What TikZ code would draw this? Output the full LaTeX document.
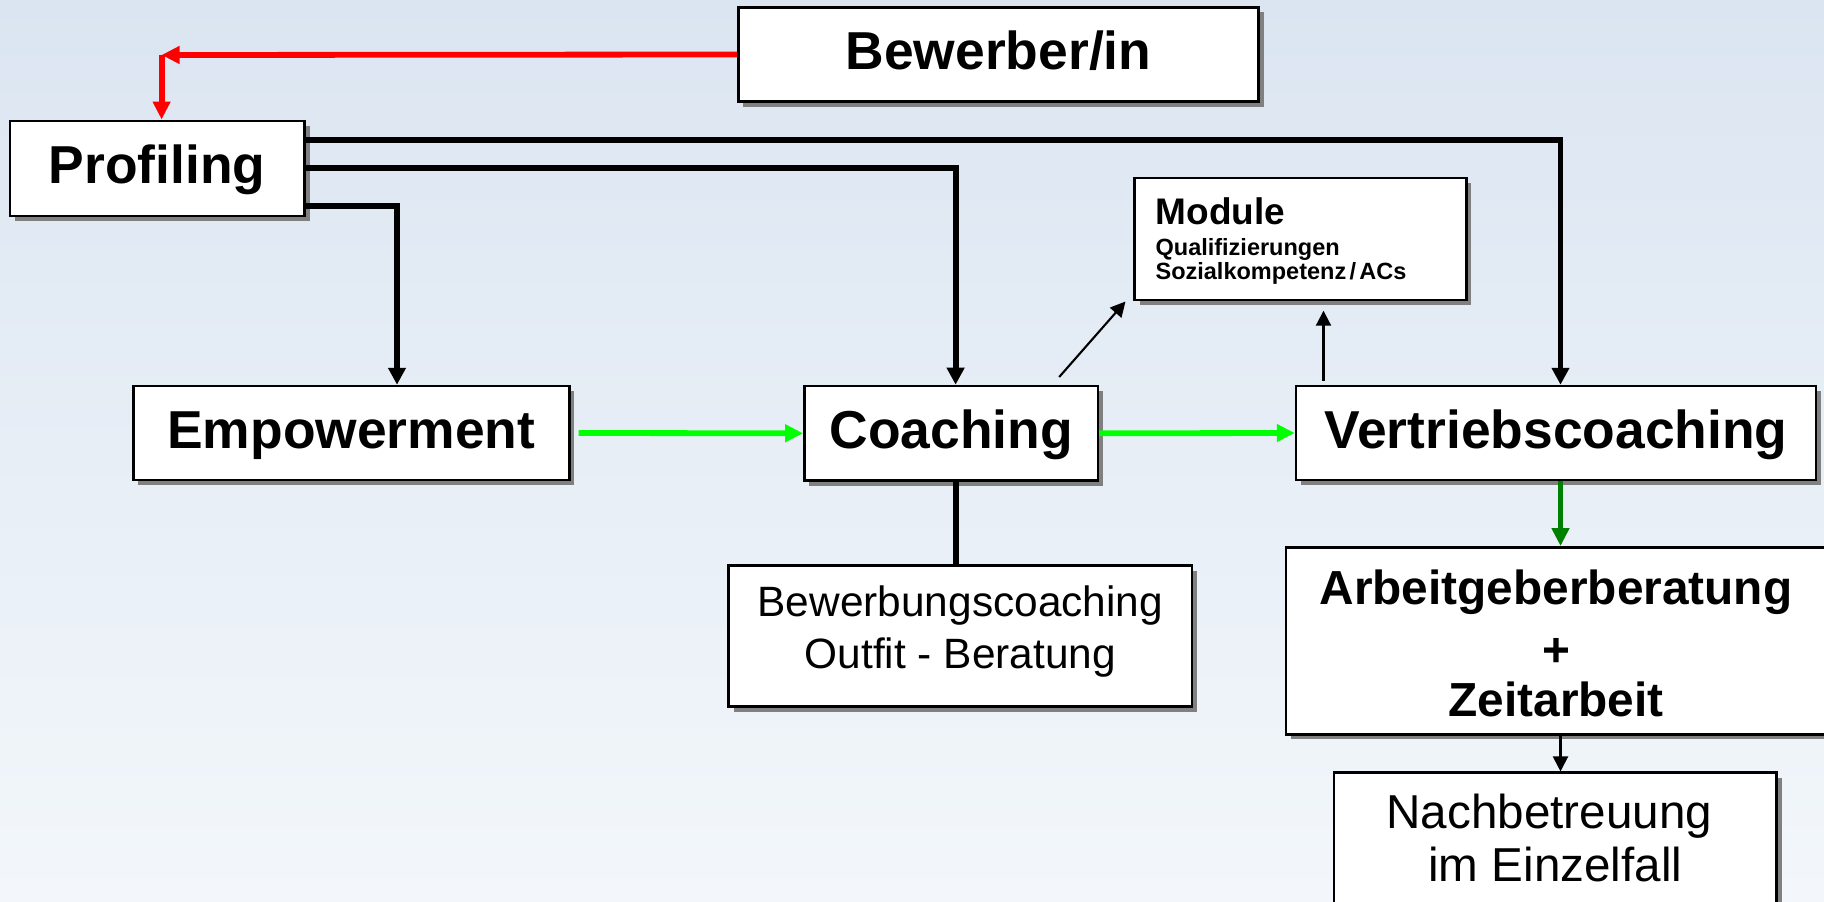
\documentclass[tikz,border=0pt]{standalone}
\usepackage{fontspec}
\setmainfont{Liberation Sans}
\usetikzlibrary{arrows.meta,shadows,calc}
\definecolor{bgtop}{RGB}{219,229,241}
\definecolor{bgbot}{RGB}{243,247,251}
\definecolor{brightgreen}{RGB}{0,255,0}
\definecolor{darkgreen}{RGB}{0,128,0}
\definecolor{shadowgray}{RGB}{128,128,128}
\begin{document}
\begin{tikzpicture}[x=1pt,y=-1pt,
  box/.style={draw=black, line width=2.5pt, fill=white, inner sep=0pt,
    drop shadow={shadow xshift=5pt, shadow yshift=-5pt, fill=shadowgray, opacity=1}},
  big/.style={font=\fontsize{53.4}{60}\selectfont\bfseries, text height=41pt, text depth=11pt},
  thickline/.style={line width=5.8pt, draw=black},
  thickarrow/.style={thickline, -{Triangle[length=17pt,width=17pt]}},
  redarrow/.style={line width=5.8pt, draw=red, -{Triangle[length=18pt,width=17pt]}},
  greenarrow/.style={line width=5.8pt, draw=brightgreen, -{Triangle[length=18pt,width=17pt]}},
  dkgreenarrow/.style={line width=5.8pt, draw=darkgreen, -{Triangle[length=18pt,width=17pt]}},
  thinarrow/.style={line width=2.1pt, draw=black, -{Triangle[length=15pt,width=15pt]}}
]
\useasboundingbox (0,0) rectangle (1824,902);
\shade[top color=bgtop, bottom color=bgbot] (0,0) rectangle (1824,902);

% nodes
\node[box, big, minimum width=520.4pt, minimum height=94.4pt] (bew) at (998.5,54.5) {Bewerber/in};
\node[box, big, minimum width=294.7pt, minimum height=95.3pt] (prof) at (157.2,168.4) {Profiling};
\node[box, big, minimum width=435.9pt, minimum height=94pt] (emp) at (351.3,433) {Empowerment};
\node[box, big, minimum width=293.6pt, minimum height=94.7pt] (coach) at (951.1,433.3) {Coaching};
\node[box, big, minimum width=520pt, minimum height=94pt] (vert) at (1556,433) {Vertriebscoaching};
\node[box, minimum width=331.6pt, minimum height=122.3pt, text width=289.8pt, inner xsep=20.9pt, align=left] (mod) at (1300.5,238.9)
  {\parindent=0pt\fontsize{37}{37}\selectfont\bfseries\rule{0pt}{30.8pt}Module\par
   \fontsize{23.5}{31.7}\selectfont\bfseries Qualifizierungen\par
   \fontsize{23.5}{24}\selectfont\bfseries Sozialkompetenz / ACs\par};
\node[box, minimum width=463.4pt, minimum height=141pt, align=center, font=\fontsize{42.4}{51.6}\selectfont] (bewc) at (960.3,636.2)
  {Bewerbungscoaching\\Outfit - Beratung\rule[-17.8pt]{0pt}{17.8pt}};
\node[box, minimum width=539.6pt, minimum height=187pt, align=center, font=\fontsize{47.8}{57.3}\selectfont\bfseries] (arb) at (1556,640.8)
  {\rule{0pt}{39.4pt}Arbeitgeberberatung\\[5.3pt]+\\[-7.5pt]Zeitarbeit};
\node[box, minimum width=442.7pt, minimum height=130.6pt, align=center, font=\fontsize{47.6}{53.4}\selectfont] (nach) at (1555.3,838)
  {Nachbetreuung\hspace*{12pt}\\im Einzelfall};

% connectors
\coordinate (rc) at (161.6,55);
\draw[redarrow] (bew.west) -- (rc);
\draw[redarrow] (rc) -- (rc |- prof.north);

\coordinate (r1) at (1560.5,140);
\draw[thickarrow] (prof.east |- r1) -| ([xshift=4.5pt]vert.north);
\coordinate (r2) at (955.6,168.3);
\draw[thickarrow] (prof.east |- r2) -| (r2 |- coach.north);
\coordinate (r3) at (397,206);
\draw[thickarrow] (prof.east |- r3) -| (r3 |- emp.north);

\draw[greenarrow] ([xshift=8pt]emp.east) -- (coach.west);
\draw[greenarrow] (coach.east) -- (vert.west);

\draw[thickline] ([xshift=4.5pt]coach.south) -- ([xshift=4.5pt]coach.south |- bewc.north);

\draw[dkgreenarrow] ([xshift=4.5pt]vert.south) -- ([xshift=4.5pt]arb.north);
\draw[thinarrow] ([xshift=4.5pt]arb.south) -- ([xshift=5.2pt]nach.north);

\coordinate (d1) at (1059.2,377);
\coordinate (d2) at (1125.5,301.5);
\draw[thinarrow] (d1) -- (d2);
\coordinate (v1) at (1323.5,380.5);
\coordinate (v2) at (1323.5,310.7);
\draw[thinarrow] (v1) -- (v2);
\end{tikzpicture}
\end{document}
